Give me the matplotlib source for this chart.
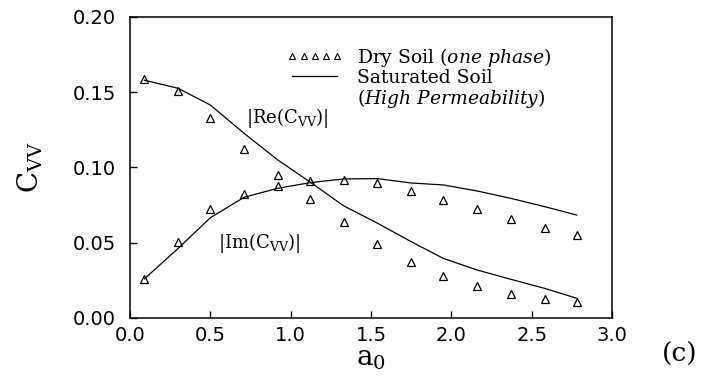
import matplotlib
matplotlib.use('Agg')
import matplotlib.pyplot as plt
from matplotlib.lines import Line2D

# frequency a0 (sample points)
a0 = [0.09, 0.30, 0.50, 0.71, 0.92, 1.12, 1.33, 1.54, 1.75, 1.95, 2.16, 2.37, 2.58, 2.78]

# dry soil (one phase) - triangles
dry_re = [0.159, 0.151, 0.133, 0.112, 0.095, 0.079, 0.0636, 0.049, 0.037, 0.0277, 0.0213, 0.016, 0.0126, 0.0104]
dry_im = [0.026, 0.0505, 0.0722, 0.0822, 0.0875, 0.091, 0.0915, 0.0895, 0.0846, 0.0784, 0.0722, 0.0656, 0.0596, 0.055]

# saturated soil (high permeability) - lines
sat_re = [0.158, 0.1526, 0.1415, 0.1227, 0.105, 0.0904, 0.0745, 0.063, 0.0507, 0.0396, 0.0319, 0.0257, 0.0197, 0.0131]
sat_im = [0.026, 0.0463, 0.0666, 0.0802, 0.0862, 0.0899, 0.0924, 0.0926, 0.0897, 0.0884, 0.0844, 0.0795, 0.074, 0.0684]

x_ticks = [0.0, 0.5, 1.0, 1.5, 2.0, 2.5, 3.0]
y_ticks = [0.00, 0.05, 0.10, 0.15, 0.20]

plt.rcParams['mathtext.fontset'] = 'dejavuserif'

fig = plt.figure(figsize=(7.17, 3.81), dpi=100)
ax = fig.add_axes([0.1813, 0.1654, 0.6723, 0.79])

ax.plot(a0, sat_re, color='black', lw=0.9)
ax.plot(a0, sat_im, color='black', lw=0.9)
ax.plot(a0, dry_re, linestyle='none', marker='^', ms=6, mfc='none', mec='black', mew=0.9)
ax.plot(a0, dry_im, linestyle='none', marker='^', ms=6, mfc='none', mec='black', mew=0.9)

ax.set_xlim(0, 3.0)
ax.set_ylim(0, 0.20)
ax.set_xticks(x_ticks)
ax.set_xticklabels(['%.1f' % v for v in x_ticks])
ax.set_yticks(y_ticks)
ax.set_yticklabels(['%.2f' % v for v in y_ticks])
ax.tick_params(direction='in', length=5, width=1, labelsize=14)
ax.tick_params(axis='y', pad=10)
ax.tick_params(axis='x', pad=6)
for s in ax.spines.values():
    s.set_linewidth(1.1)

ax.set_ylabel(r'C$_{\rm VV}$', family='DejaVu Serif', fontsize=20, labelpad=20)
ax.set_xlabel(r'a$_0$', family='DejaVu Serif', fontsize=20, labelpad=0)
fig.text(0.948, 0.07, '(c)', family='DejaVu Serif', fontsize=19, ha='center', va='center')

ax.text(0.72, 0.133, r'|Re(C$_{\rm VV}$)|', family='DejaVu Serif', fontsize=13, va='center')
ax.text(0.55, 0.05, r'|Im(C$_{\rm VV}$)|', family='DejaVu Serif', fontsize=13, va='center')

handles = [
    Line2D([], [], linestyle='none', marker='^', ms=5, mfc='none', mec='black', mew=0.8),
    Line2D([], [], color='black', lw=0.9),
    Line2D([], [], linestyle='none'),
]
labels = [r'Dry Soil ($\it{one\ phase}$)', 'Saturated Soil', r'($\it{High\ Permeability}$)']
leg = ax.legend(handles, labels, loc='upper left', bbox_to_anchor=(0.325, 0.905),
                frameon=False, numpoints=5, handlelength=3.0, handletextpad=0.75,
                labelspacing=0.0, borderpad=0, borderaxespad=0,
                prop={'family': 'DejaVu Serif', 'size': 13.5})

fig.savefig('out.png', dpi=100)
